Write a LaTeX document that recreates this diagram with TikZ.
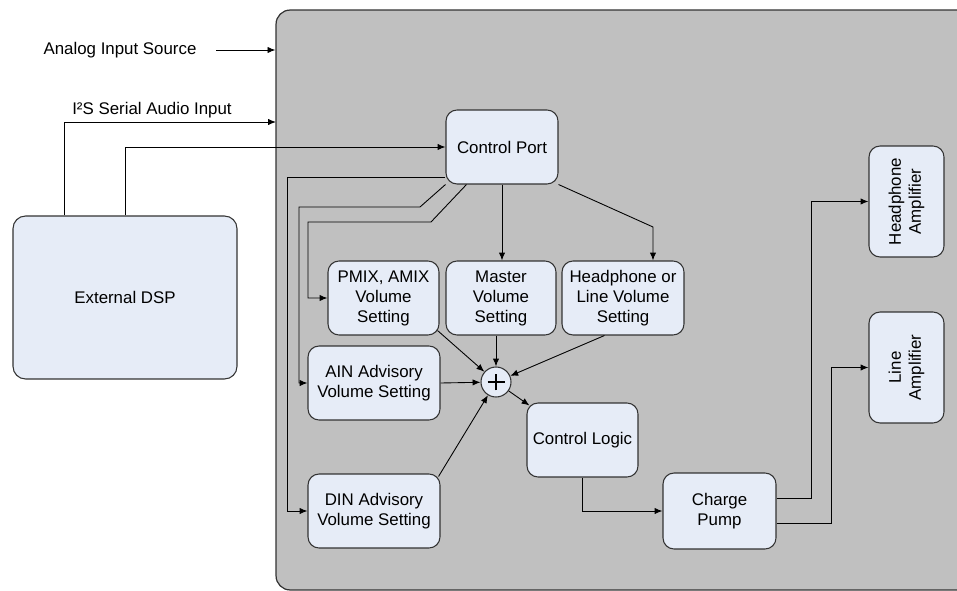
\documentclass[tikz,border=0pt]{standalone}
\usepackage{fontspec}
\setmainfont{Liberation Sans}
\usetikzlibrary{positioning}
\usetikzlibrary{arrows.meta}
\usepackage{xcolor}

\definecolor{chipgray}{RGB}{192,192,192}
\definecolor{boxfill}{RGB}{230,236,247}
\definecolor{boxline}{RGB}{51,51,51}

\begin{document}
\begin{tikzpicture}[x=0.02cm, y=-0.02cm,
  box/.style={draw=boxline, fill=boxfill, line width=0.6pt, rounded corners=0.22cm,
    align=center, minimum height=1.48cm, inner sep=1pt,
    font=\fontsize{9.6}{11.4}\selectfont},
  lbl/.style={font=\fontsize{9.6}{11.4}\selectfont, inner sep=0pt},
  arr/.style={black, line width=0.5pt, -{Latex[length=4.5pt,width=3.6pt]}},
  wire/.style={black, line width=0.5pt}]

\useasboundingbox (0,0) rectangle (957,591);
\clip (0,0) rectangle (957,591);

%chip area
\node[draw=boxline, fill=chipgray, line width=0.7pt, rounded corners=0.28cm,
  minimum width=14.48cm, minimum height=11.6cm] (chip) at (638,300) {};

%outside
\node[lbl] (ais) at (120,50) {Analog Input Source};
\node[lbl] (i2s) at (152,110) {I²S Serial Audio Input};
\node[box, rounded corners=0.25cm] (dsp) at (125,297.5) [minimum width=4.48cm, minimum height=3.26cm] {External DSP};

\coordinate (i2sin) at (276,122);

%blocks
\node[box] (cport) at (502,147) [minimum width=2.24cm] {Control Port};

\node[box] (pmix) at (383.5,298) [minimum width=2.22cm] {PMIX, AMIX\\Volume\\Setting};
\node[box] (master) at (501,298) [minimum width=2.2cm] {Master\\Volume\\Setting};
\node[box] (hpline) at (623,298) [minimum width=2.44cm] {Headphone or\\Line Volume\\Setting};

\node[box] (ain) at (374,383) [minimum width=2.64cm] {AIN Advisory\\Volume Setting};
\node[box] (din) at (374,511) [minimum width=2.64cm] {DIN Advisory\\Volume Setting};

\node[draw=boxline, fill=boxfill, line width=0.6pt, circle, minimum size=0.6cm, inner sep=0pt] (sum) at (496,382) {};
\draw[line width=0.6pt] ([xshift=-0.17cm]sum.center) -- ([xshift=0.17cm]sum.center);
\draw[line width=0.6pt] ([yshift=-0.17cm]sum.center) -- ([yshift=0.17cm]sum.center);

\node[box] (clogic) at (582.5,440) [minimum width=2.22cm] {Control Logic};
\node[box] (cpump) at (719.5,511) [minimum width=2.26cm, minimum height=1.52cm] {Charge\\Pump};

\node[box, rotate=90] (hpamp) at (906.5,201.5) [minimum width=2.22cm, minimum height=1.5cm] {Headphone\\Amplifier};
\node[box, rotate=90] (lnamp) at (906.5,367.5) [minimum width=2.22cm, minimum height=1.5cm] {Line\\Amplifier};

\coordinate (hpbend) at (811,201.5);
\coordinate (lnbend) at (831,367.5);

%inputs
\draw[arr] ([xshift=11pt]ais.east) -- (ais -| chip.west);
\draw[arr] ([xshift=-1.22cm]dsp.north) |- (i2sin);
\draw[arr] (dsp.north) |- (cport.west);

%control port outputs
\draw[arr] ([yshift=-0.6cm]cport.west) -| (287,511) -- (din.west);
\draw[arr] (cport.south west) -- (420,207) -| (299,383) -- (ain.west);
\draw[arr] ([xshift=0.42cm]cport.south west) -- (431,222) -| (308,298) -- (pmix.west);
\draw[arr] (cport.south) -- (cport.south |- master.north);
\draw[arr] (cport.south east) -- (653,227) -- ([xshift=0.6cm]hpline.north);

%into the sum
\draw[arr] ([shift={(-0.04cm,0.1cm)}]pmix.south east) -- (sum);
\draw[arr] (sum.north |- master.south) -- (sum.north);
\draw[arr] ([xshift=0.86cm]hpline.south west) -- (sum);
\draw[arr] (ain.east) -- (sum);
\draw[arr] ([shift={(-0.04cm,-0.06cm)}]din.north east) -- (sum);
\draw[arr] (sum) -- ([shift={(0.06cm,-0.06cm)}]clogic.north west);

%to the amplifiers
\draw[arr] (clogic.south) |- (cpump.west);
\draw[arr] ([yshift=0.26cm]cpump.east) -| (hpbend) -- (hpamp.north);
\draw[arr] ([yshift=-0.24cm]cpump.east) -| (lnbend) -- (lnamp.north);

\end{tikzpicture}
\end{document}
